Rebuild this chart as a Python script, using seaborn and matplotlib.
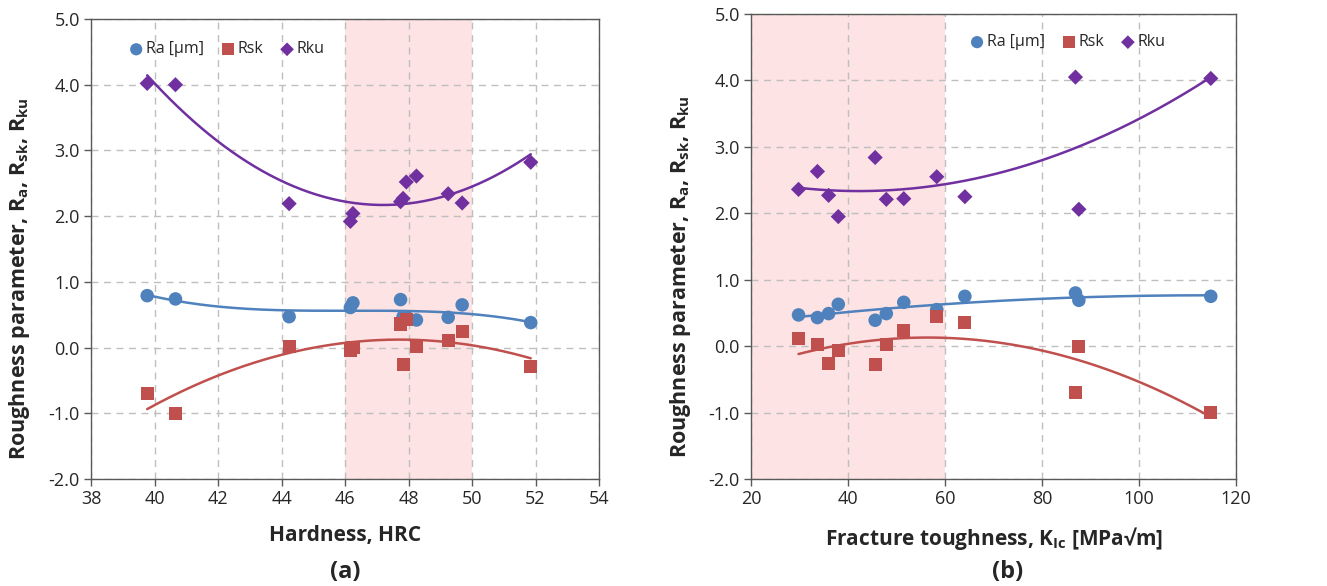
import numpy as np
import pandas as pd
import seaborn as sns
import matplotlib.pyplot as plt
from matplotlib.ticker import MultipleLocator, FormatStrFormatter

# panel (a): roughness vs hardness
hardness = [39.77, 40.66, 44.24, 46.17, 46.25, 47.75, 47.83, 47.93, 48.25, 49.25, 49.69, 51.85]
ra_a = [0.79, 0.74, 0.47, 0.61, 0.68, 0.73, 0.47, 0.47, 0.42, 0.46, 0.65, 0.38]
rsk_a = [-0.70, -1.00, 0.02, -0.05, 0.00, 0.36, -0.26, 0.43, 0.02, 0.11, 0.25, -0.29]
rku_a = [4.02, 4.00, 2.19, 1.92, 2.04, 2.22, 2.27, 2.52, 2.61, 2.34, 2.20, 2.82]

# panel (b): roughness vs fracture toughness
toughness = [29.8, 33.7, 36.0, 38.0, 45.6, 47.9, 51.5, 58.3, 64.1, 86.9, 87.6, 114.8]
ra_b = [0.47, 0.43, 0.49, 0.63, 0.39, 0.49, 0.66, 0.55, 0.75, 0.80, 0.69, 0.75]
rsk_b = [0.11, 0.02, -0.26, -0.06, -0.28, 0.03, 0.24, 0.45, 0.36, -0.70, -0.01, -1.00]
rku_b = [2.36, 2.63, 2.27, 1.95, 2.84, 2.21, 2.22, 2.55, 2.25, 4.05, 2.06, 4.03]

series = ['Ra [µm]', 'Rsk', 'Rku']
colors = {'Ra [µm]': '#4F81BD', 'Rsk': '#C0504D', 'Rku': '#7030A0'}
markers = {'Ra [µm]': 'o', 'Rsk': 's', 'Rku': 'D'}
sizes = {'Ra [µm]': 95, 'Rsk': 90, 'Rku': 60}

sns.set_style('white')
plt.rcParams['font.family'] = ['Open Sans', 'DejaVu Sans']
plt.rcParams['mathtext.fontset'] = 'custom'
plt.rcParams['mathtext.rm'] = 'Open Sans'
plt.rcParams['mathtext.bf'] = 'Open Sans:bold'


def draw_panel(ax, x, ra, rsk, rku, degrees, span, xlim, xstep, xlabel, leg_anchor, ylab_x):
    ax.axvspan(span[0], span[1], color='#FDE3E3', zorder=0, lw=0)
    for name, vals in zip(series, [ra, rsk, rku]):
        df = pd.DataFrame({'x': x, 'y': vals})
        coef = np.polyfit(df['x'], df['y'], degrees[name])
        xs = np.linspace(min(x), max(x), 200)
        fit = pd.DataFrame({'x': xs, 'y': np.polyval(coef, xs)})
        sns.lineplot(data=fit, x='x', y='y', ax=ax, color=colors[name], lw=1.8, zorder=2)
        sns.scatterplot(data=df, x='x', y='y', ax=ax, color=colors[name], marker=markers[name],
                        s=sizes[name], edgecolor='none', zorder=3, label=name)
    ax.set_xlim(*xlim)
    ax.set_ylim(-2, 5)
    ax.xaxis.set_major_locator(MultipleLocator(xstep))
    ax.yaxis.set_major_locator(MultipleLocator(1.0))
    ax.yaxis.set_major_formatter(FormatStrFormatter('%.1f'))
    ax.grid(True, ls=(0, (5, 4)), color='#BFBFBF', lw=1.0, zorder=1)
    ax.set_axisbelow(True)
    for sp in ax.spines.values():
        sp.set_color('#595959')
        sp.set_linewidth(1.0)
    ax.tick_params(direction='out', length=5, width=1, color='#595959', labelsize=13, pad=3,
                   bottom=True, left=True)
    ax.set_xlabel(xlabel, fontsize=15, fontweight='bold', labelpad=12)
    ax.set_ylabel(r'Roughness parameter, R$_\mathbf{a}$, R$_\mathbf{sk}$, R$_\mathbf{ku}$',
                  fontsize=15.5, fontweight='bold')
    ax.yaxis.set_label_coords(ylab_x, 0.435)
    ax.legend(loc='upper left', bbox_to_anchor=leg_anchor, ncol=3, frameon=False, fontsize=11.5,
              handletextpad=-0.4, columnspacing=0.5, borderaxespad=0, markerscale=0.9)


fig = plt.figure(figsize=(13.27, 5.86), dpi=100)
ax1 = fig.add_axes([91 / 1327, 1 - 479 / 586, (599 - 91) / 1327, (479 - 19) / 586])
ax2 = fig.add_axes([751 / 1327, 1 - 479 / 586, (1236 - 751) / 1327, (479 - 14) / 586])

draw_panel(ax1, hardness, ra_a, rsk_a, rku_a, {'Ra [µm]': 3, 'Rsk': 2, 'Rku': 2},
           (46, 50), (38, 54), 2, 'Hardness, HRC', (0.045, 0.965), -0.116)
draw_panel(ax2, toughness, ra_b, rsk_b, rku_b, {'Ra [µm]': 2, 'Rsk': 2, 'Rku': 2},
           (20, 60), (20, 120), 20, r'Fracture toughness, K$_\mathbf{Ic}$ [MPa√m]', (0.42, 0.97),
           -0.12)

fig.text(345 / 1327, 1 - 572 / 586, '(a)', ha='center', va='center', fontsize=17, fontweight='bold')
fig.text(1008 / 1327, 1 - 572 / 586, '(b)', ha='center', va='center', fontsize=17, fontweight='bold')

fig.savefig('out.png', dpi=100)
